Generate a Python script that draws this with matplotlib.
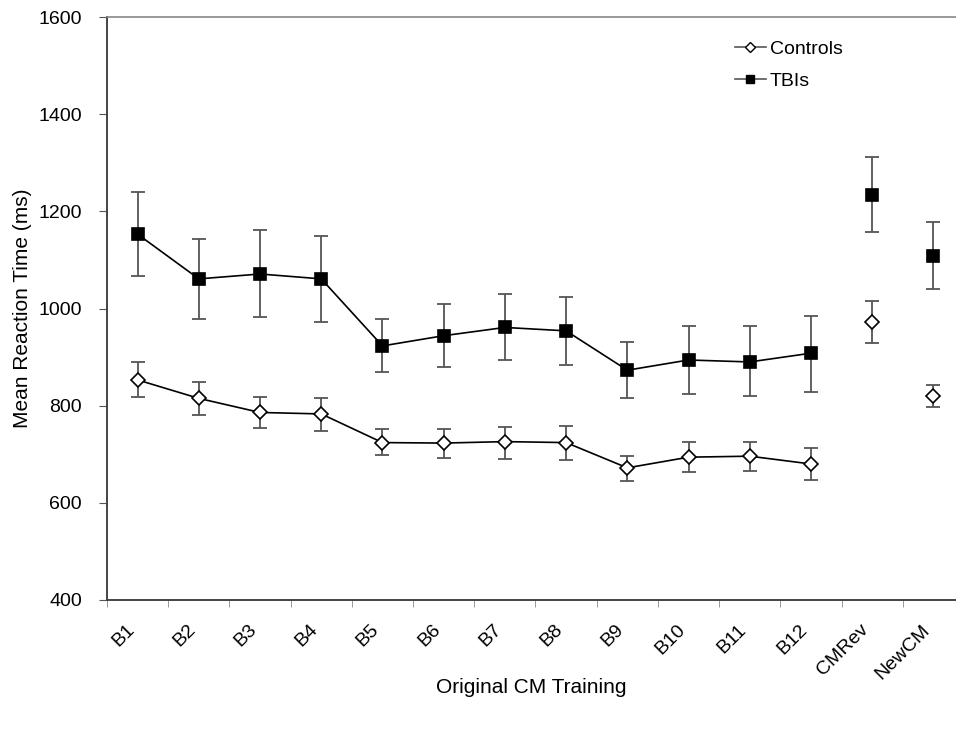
import numpy as np
import matplotlib.pyplot as plt

plt.rcParams['font.family'] = ['Liberation Sans', 'DejaVu Sans']

blocks = ["B1", "B2", "B3", "B4", "B5", "B6", "B7", "B8", "B9", "B10", "B11", "B12", "CMRev", "NewCM"]

controls_mean = [853, 815, 786, 783, 724, 723, 726, 724, 672, 694, 696, 680, 973, 820]
controls_hi = [889, 849, 817, 816, 752, 752, 757, 759, 697, 726, 726, 713, 1016, 843]
controls_lo = [817, 781, 755, 748, 698, 693, 691, 689, 644, 663, 666, 647, 930, 797]

tbi_mean = [1153, 1061, 1071, 1061, 923, 944, 961, 954, 873, 894, 890, 908, 1234, 1109]
tbi_hi = [1240, 1143, 1161, 1150, 978, 1009, 1029, 1023, 932, 965, 963, 984, 1312, 1179]
tbi_lo = [1067, 978, 982, 973, 869, 879, 894, 884, 816, 823, 820, 829, 1157, 1040]

n_train = 12  # B1..B12 are joined by a line, the two transfer blocks are not

fig = plt.figure(figsize=(9.56, 7.32), dpi=100)
ax = fig.add_axes([107/956, 1 - 600/732, 857/956, 583/732])

x = np.arange(len(blocks))

def draw_group(mean, lo, hi, marker, face, label):
    mean = np.array(mean)
    yerr = [mean - np.array(lo), np.array(hi) - mean]
    ax.errorbar(x, mean, yerr=yerr, fmt='none', ecolor='#555555', elinewidth=1.3,
                capsize=5, capthick=1.3, zorder=2)
    ax.plot(x[:n_train], mean[:n_train], color='black', lw=1.2, zorder=3)
    ax.plot(x, mean, ls='none', marker=marker, mfc=face, mec='black', mew=1.2,
            ms=8 if marker == 's' else 7, zorder=4)
    # legend proxy
    ax.plot([], [], color='#555555', lw=1.2, marker=marker, mfc=face, mec='black',
            mew=1.0, ms=6 if marker == 's' else 5, label=label)

draw_group(controls_mean, controls_lo, controls_hi, 'D', 'white', 'Controls')
draw_group(tbi_mean, tbi_lo, tbi_hi, 's', 'black', 'TBIs')

ax.set_xlim(-0.5, len(blocks) - 0.5)
ax.set_ylim(400, 1600)
ax.set_yticks(np.arange(400, 1601, 200))

ax.set_xticks(x)
ax.set_xticklabels(blocks, rotation=45, ha='right', va='bottom', rotation_mode='anchor')
ax.set_xticks(np.arange(-0.5, len(blocks), 1), minor=True)
ax.tick_params(axis='x', which='major', length=0, pad=24, labelsize=14)
ax.tick_params(axis='x', which='minor', length=5, color='#888888', direction='out')
ax.tick_params(axis='y', length=6, color='#555555', labelsize=14, pad=12)

for side in ['left', 'bottom']:
    ax.spines[side].set_color('#444444')
    ax.spines[side].set_linewidth(1.4)
ax.spines['top'].set_color('#888888')
ax.spines['top'].set_linewidth(1.2)
ax.spines['right'].set_visible(False)

ax.set_ylabel('Mean Reaction Time (ms)', fontsize=15)
ax.yaxis.set_label_coords((32 - 107) / 857, 0.5)
ax.set_xlabel('Original CM Training', fontsize=15)
ax.xaxis.set_label_coords((531 - 107) / 857, -78 / 583)

ax.legend(loc='upper left', bbox_to_anchor=(0.712, 0.99), frameon=False,
          fontsize=14, handlelength=1.6, handletextpad=0.2, labelspacing=0.72)

fig.savefig('out.png', dpi=100)
